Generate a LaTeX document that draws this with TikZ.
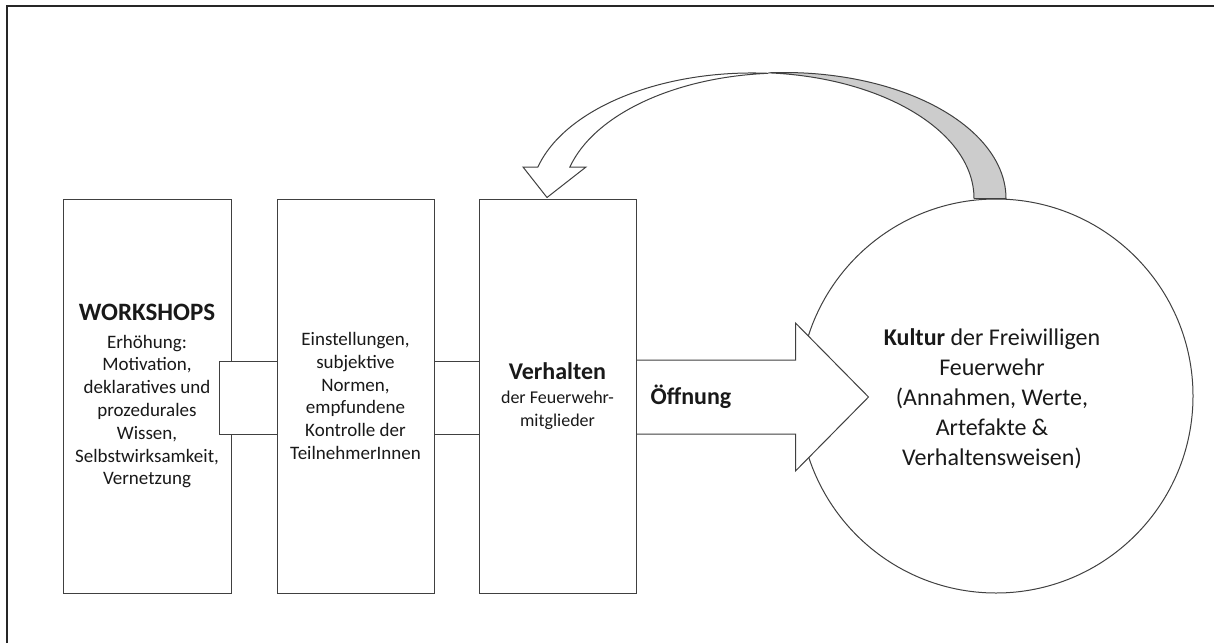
\documentclass[tikz,border=0pt]{standalone}
\usepackage{fontspec}
\setmainfont{Carlito}
\usetikzlibrary{calc}
\begin{document}
\begin{tikzpicture}[x=1pt,y=1pt,
  line/.style={draw=black!75, line width=1pt},
  boxst/.style={line, fill=white, minimum width=#1, minimum height=394pt, inner sep=0pt, align=center, text=black!90, font=\fontsize{19}{22.8}\selectfont},
  conn/.style={line, fill=white},
  whiteface/.style={line, fill=white},
  greyface/.style={line, fill=black!20}
]
\useasboundingbox (0,0) rectangle (1214,-643);
\draw[line width=2pt, black!85] (7,-643) -- (7,-6) -- (1214,-6);

% culture circle
\node[line, fill=white, circle, minimum size=394pt, inner sep=0pt] (kultur) at (996,-396) {};
\node[align=center, text=black!90, font=\fontsize{24}{30}\selectfont] (kulturtext) at (992,-399)
  {\textbf{Kultur} der Freiwilligen\\Feuerwehr\\(Annahmen, Werte,\\Artefakte \&\\Verhaltensweisen)};

% box 1
\node[boxst=168pt] (box1) at (147,-396)
  {{\fontsize{25}{26}\selectfont\bfseries WORKSHOPS}\\[5pt]Erhöhung:\\Motivation,\\deklaratives und\\prozedurales\\Wissen,\\Selbstwirksamkeit,\\Vernetzung};

% connector box1 -> box2
\draw[conn] ($(box1.east)+(-12,35)$) rectangle ($(box1.east)+(46,-38)$);

% box 2
\node[boxst=157pt] (box2) at (355.5,-396)
  {Einstellungen,\\subjektive\\Normen,\\empfundene\\Kontrolle der\\TeilnehmerInnen};

% connector box2 -> box3
\draw[conn] ($(box2.east)+(0,35)$) rectangle ($(box2.east)+(45,-38)$);

% big arrow box3 -> kultur
\coordinate (arrstart) at ($(box2.east)+(192,36)$);
\draw[conn] (arrstart) -- ++(169,0) -- ++(0,37) -- ++(73,-74) -- ++(-73,-74) -- ++(0,37) -- ++(-169,0) -- cycle;

% box 3
\node[boxst=157pt] (box3) at (557.5,-396)
  {{\fontsize{24}{26}\selectfont\bfseries Verhalten}\\[1pt]{\fontsize{18}{23}\selectfont der Feuerwehr-}\\{\fontsize{18}{23}\selectfont mitglieder}};

\node[text=black!90, font=\fontsize{24}{26}\selectfont\bfseries] (oeffnung) at (691,-397) {Öffnung};

% curved feedback arrow kultur -> box3
\coordinate (fbtip) at ($(box3.north)+(-10.5,1)$);
\coordinate (fbstart) at ($(kultur.north)+(-22,0)$);
\filldraw[greyface] (fbstart) -- ++(32,0)
  arc[start angle=0, end angle=94.14, x radius=221.7pt, y radius=126pt]
  arc[start angle=85.86, end angle=0, x radius=221.7pt, y radius=126pt] -- cycle;
\filldraw[whiteface] (537.9,-167)
  arc[start angle=165.3, end angle=85.86, x radius=221.7pt, y radius=126pt]
  arc[start angle=94.14, end angle=165.3, x radius=221.7pt, y radius=126pt]
  -- (586,-167) -- (fbtip) -- (523,-167) -- cycle;
\end{tikzpicture}
\end{document}
